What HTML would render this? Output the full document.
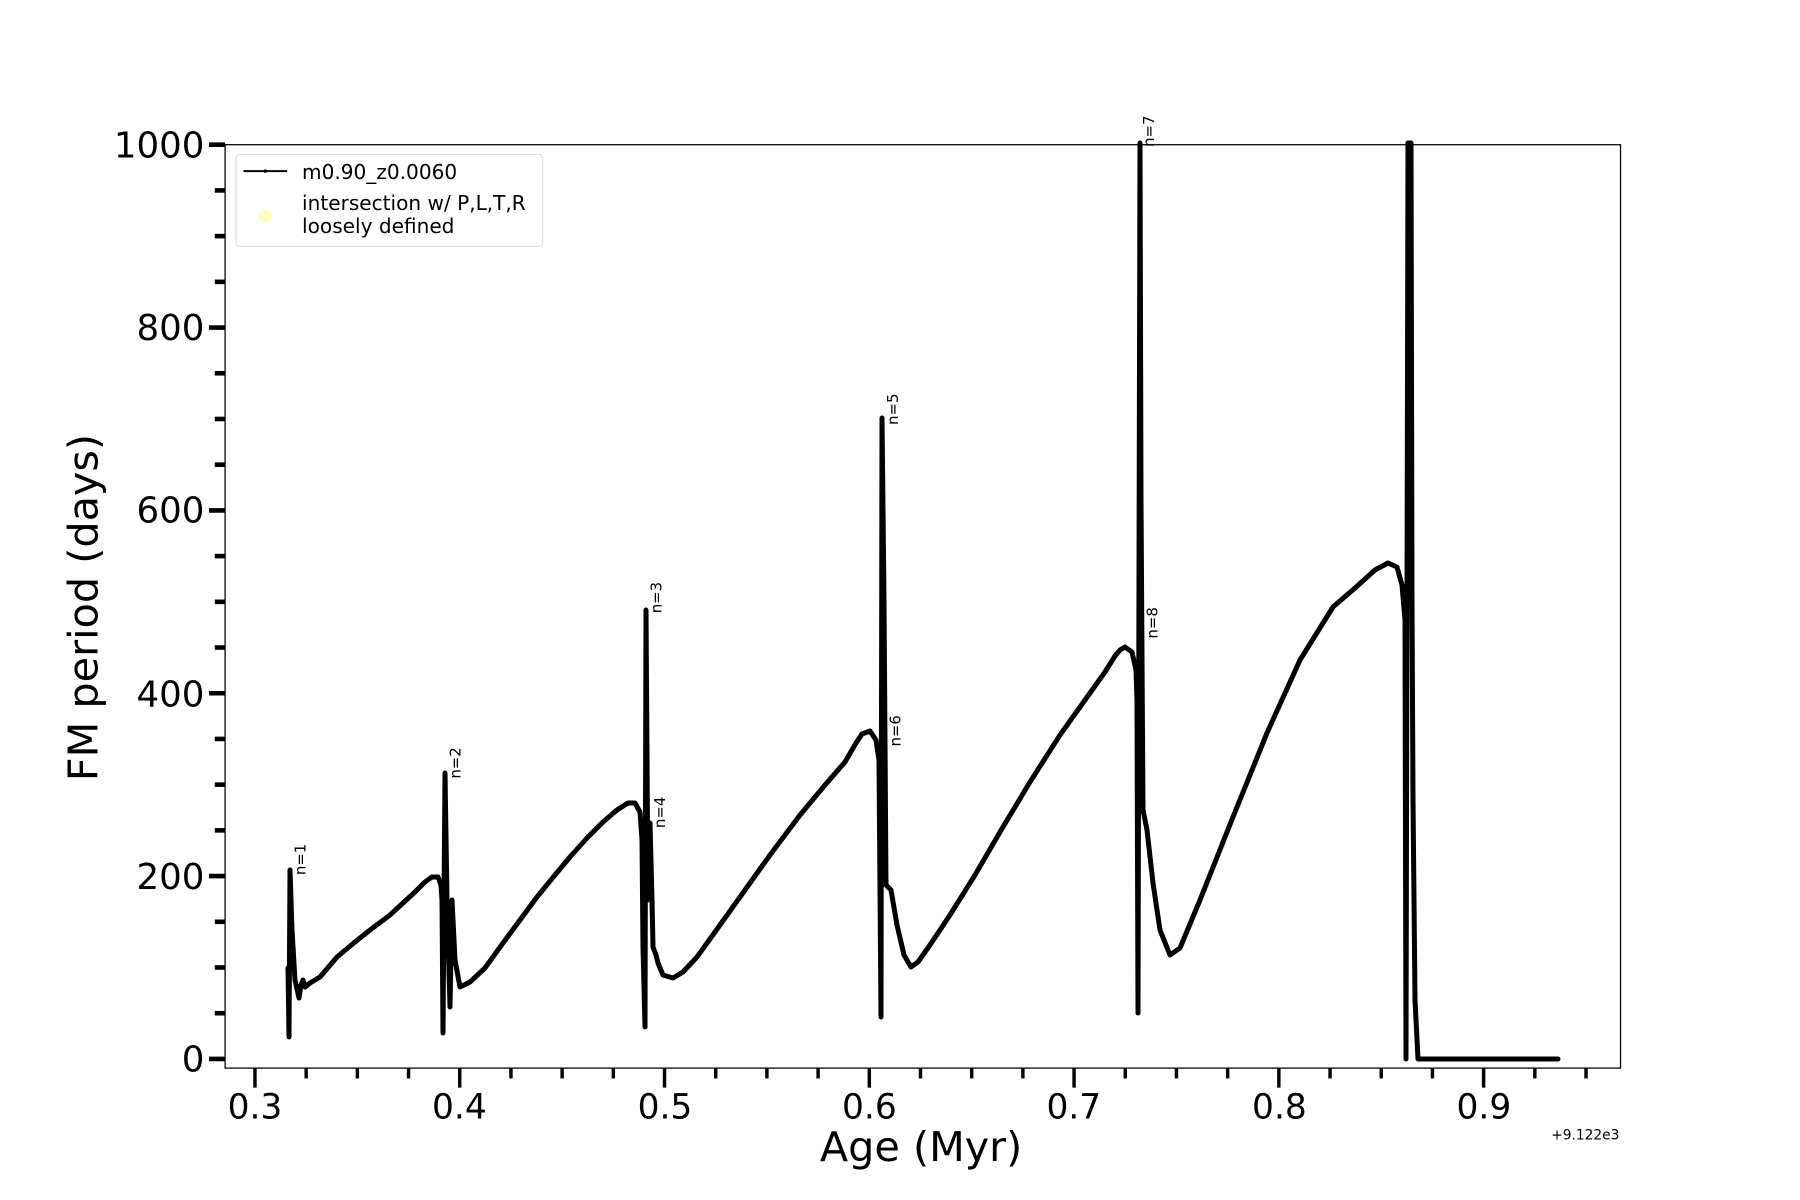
<!DOCTYPE html>
<html><head><style>html,body{margin:0;padding:0;background:#fff;}svg{display:block}</style></head><body>
<svg width="1800" height="1200" viewBox="0 0 1800 1200" xmlns="http://www.w3.org/2000/svg" font-family="'DejaVu Sans','Liberation Sans',sans-serif">
<rect x="0" y="0" width="1800" height="1200" fill="#fff"/>
<g transform="scale(1.1485)">
<rect x="196" y="126" width="1215" height="804" fill="none" stroke="#000" stroke-width="1.1"/>
<g stroke="#000" stroke-width="4" id="yt"></g>
<g stroke="#000" stroke-width="3" id="xt"></g>
<g font-size="31" text-anchor="end" fill="#000">
<text x="178" y="933">0</text><text x="178" y="774">200</text><text x="178" y="615">400</text><text x="178" y="455">600</text><text x="178" y="296">800</text><text x="178" y="137">1000</text>
</g>
<g font-size="30" text-anchor="middle" fill="#000">
<text x="222" y="974">0.3</text><text x="400" y="974">0.4</text><text x="579" y="974">0.5</text><text x="757" y="974">0.6</text><text x="935" y="974">0.7</text><text x="1114" y="974">0.8</text><text x="1292" y="974">0.9</text>
</g>
<text x="802" y="1011" font-size="36" text-anchor="middle">Age (Myr)</text>
<text x="1410" y="992" font-size="12" text-anchor="end">+9.122e3</text>
<text transform="translate(85,529) rotate(-90)" font-size="36" text-anchor="middle">FM period (days)</text>
<g font-size="13" fill="#000">
<text transform="translate(266,762) rotate(-90)">n=1</text>
<text transform="translate(401,678) rotate(-90)">n=2</text>
<text transform="translate(576,534) rotate(-90)">n=3</text>
<text transform="translate(579,721) rotate(-90)">n=4</text>
<text transform="translate(782,370) rotate(-90)">n=5</text>
<text transform="translate(784,650) rotate(-90)">n=6</text>
<text transform="translate(1005,128) rotate(-90)">n=7</text>
<text transform="translate(1008,556) rotate(-90)">n=8</text>
</g>
<rect x="205.5" y="134.5" width="267" height="80" rx="3" fill="#fff" fill-opacity="0.8" stroke="#ddd" stroke-width="1"/>
<line x1="212" y1="149" x2="250" y2="149" stroke="#000" stroke-width="1.8"/>
<circle cx="231" cy="149" r="1.5" fill="#000"/>
<circle cx="231" cy="188" r="6" fill="#ffffc0"/>
<g font-size="17.5" fill="#000">
<text x="263" y="156">m0.90_z0.0060</text>
<text x="263" y="183">intersection w/ P,L,T,R</text>
<text x="263" y="203">loosely defined</text>
</g>
</g>
<polyline fill="none" stroke="#000" stroke-width="5" stroke-linejoin="round" stroke-linecap="round" points="288,968 289,1037 290,870 292,930 295,980 299,998 301,985 303,980 305,987 310,983 320,977 337,957 355,942 370,930 390,915 403,903 415,892 425,882 432,877 438,877 441,885 442,900 443,1033 445,773 447,900 450,1007 452,900 455,960 460,987 470,982 485,968 503,943 520,920 537,897 555,875 570,857 587,838 603,822 617,810 628,803 635,803 640,812 642,840 643,947 645,1027 646,610 648,900 650,823 652,900 653,947 656,955 658,963 663,975 673,978 683,972 697,957 720,925 745,890 770,855 800,815 825,785 845,762 856,743 862,734 870,731 876,740 879,760 881,1017 882,418 884,600 886,885 891,890 897,925 904,955 911,967 918,962 930,945 950,915 975,875 1000,832 1030,782 1060,735 1085,700 1105,672 1115,656 1120,650 1125,647 1132,652 1136,670 1137,700 1138,1013 1140,143 1141,500 1143,810 1147,830 1153,883 1160,930 1170,955 1180,948 1200,900 1233,817 1267,733 1300,660 1333,607 1355,588 1375,570 1388,563 1397,567 1402,585 1405,620 1406,1059 1408,143 1411,143 1412,600 1413,800 1415,1000 1418,1059 1558,1059"/>
<script>
var ns="http://www.w3.org/2000/svg";
var yt=document.getElementById('yt');
for(var p=0;p<=1000;p+=50){var y=922-p*0.796;var l=document.createElementNS(ns,'line');var len=(p%200==0)?14:9;
l.setAttribute('x1',196-len);l.setAttribute('x2',196);l.setAttribute('y1',y);l.setAttribute('y2',y);yt.appendChild(l);}
var xt=document.getElementById('xt');
for(var i=0;i<=27;i++){var a=0.3+i*0.025;var x=222+(a-0.3)*1783;if(x>1410)break;var l=document.createElementNS(ns,'line');var len=(i%4==0)?17:9;
l.setAttribute('x1',x);l.setAttribute('x2',x);l.setAttribute('y1',930);l.setAttribute('y2',930+len);xt.appendChild(l);}
</script>
</svg>
</body></html>
